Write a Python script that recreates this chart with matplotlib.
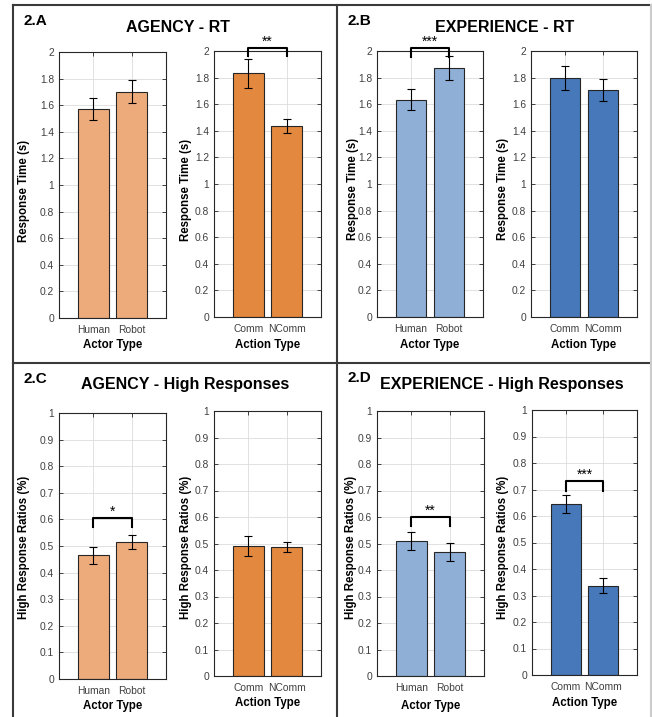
import matplotlib.pyplot as plt
from matplotlib.lines import Line2D

plt.rcParams['font.family'] = ['Liberation Sans', 'DejaVu Sans']

###############################################################################
# Data

actor_labels = ['Human', 'Robot']
action_labels = ['Comm', 'NComm']

# Response time (s), mean and error
agency_rt_actor = [1.574, 1.700]
agency_rt_actor_err = [0.083, 0.087]
agency_rt_action = [1.832, 1.438]
agency_rt_action_err = [0.110, 0.052]

exp_rt_actor = [1.634, 1.872]
exp_rt_actor_err = [0.079, 0.093]
exp_rt_action = [1.797, 1.709]
exp_rt_action_err = [0.088, 0.084]

# High response ratios, mean and error
agency_hr_actor = [0.465, 0.515]
agency_hr_actor_err = [0.031, 0.027]
agency_hr_action = [0.492, 0.487]
agency_hr_action_err = [0.038, 0.019]

exp_hr_actor = [0.511, 0.467]
exp_hr_actor_err = [0.034, 0.034]
exp_hr_action = [0.645, 0.337]
exp_hr_action_err = [0.034, 0.028]

rt_ticks = [0, 0.2, 0.4, 0.6, 0.8, 1, 1.2, 1.4, 1.6, 1.8, 2]
hr_ticks = [0, 0.1, 0.2, 0.3, 0.4, 0.5, 0.6, 0.7, 0.8, 0.9, 1]

# significance brackets: (stars, bracket top, leg bottom)
agency_rt_action_sig = ('**', 2.02, 1.96)
exp_rt_actor_sig = ('***', 2.025, 1.955)
agency_hr_actor_sig = ('*', 0.605, 0.571)
exp_hr_actor_sig = ('**', 0.600, 0.566)
exp_hr_action_sig = ('***', 0.732, 0.694)

light_orange = '#EDAB7C'
dark_orange = '#E2883F'
light_blue = '#8FAFD6'
dark_blue = '#4778B9'

###############################################################################

W, H = 652, 717
fig = plt.figure(figsize=(W / 100, H / 100), dpi=100)


def px_axes(x0, y0, x1, y1):
	return fig.add_axes([x0 / W, 1 - y1 / H, (x1 - x0) / W, (y1 - y0) / H])


def draw_bars(ax, box, vals, errs, labels, color, ticks, ylabel, xlabel,
		ylab_px, xlab_y, sig=None):
	x0, y0, x1, y1 = box
	x = [1, 2]
	ax.bar(x, vals, width=0.8, color=color, edgecolor='#262626',
			linewidth=0.8, zorder=2)
	ax.errorbar(x, vals, yerr=errs, fmt='none', ecolor='black',
			elinewidth=0.8, capsize=3, capthick=0.8, zorder=3)
	ax.set_xlim(0.1, 2.9)
	ax.set_ylim(ticks[0], ticks[-1])
	ax.set_xticks(x)
	ax.set_xticklabels(labels)
	ax.set_yticks(ticks)
	ax.set_yticklabels([f'{t:g}' for t in ticks])
	ax.grid(True, color='#dcdcdc', linewidth=0.6)
	ax.set_axisbelow(True)
	ax.tick_params(direction='in', length=3, width=0.6, top=True, right=True,
			labelsize=7.4, labelcolor='#404040', color='#262626')
	ax.tick_params(axis='x', pad=5)
	for s in ax.spines.values():
		s.set_linewidth(0.8)
		s.set_color('#262626')

	ax.set_ylabel(ylabel, fontsize=8.3, fontweight='bold')
	ax.set_xlabel(xlabel, fontsize=8.3, fontweight='bold')
	ax.yaxis.label.set_va('center')
	ax.xaxis.label.set_va('center')
	ax.yaxis.set_label_coords((ylab_px[0] - x0) / (x1 - x0),
			(y1 - ylab_px[1]) / (y1 - y0))
	ax.xaxis.set_label_coords(0.5, (y1 - xlab_y) / (y1 - y0))

	if sig:
		stars, top, leg = sig
		ax.plot([1, 1, 2, 2], [leg, top, top, leg], color='black',
				linewidth=1.5, clip_on=False, zorder=4)
		ax.annotate(stars, xy=(1.5, top), xytext=(0, 1.5),
				textcoords='offset points', ha='center', va='baseline',
				fontsize=10, annotation_clip=False)


rt_label = 'Response Time (s)'
hr_label = 'High Response Ratios (%)'

# 2.A
box = (59, 52, 166, 318)
draw_bars(px_axes(*box), box, agency_rt_actor, agency_rt_actor_err,
		actor_labels, light_orange, rt_ticks, rt_label, 'Actor Type',
		(24, 191), 345)
box = (214, 51, 321, 317)
draw_bars(px_axes(*box), box, agency_rt_action, agency_rt_action_err,
		action_labels, dark_orange, rt_ticks, rt_label, 'Action Type',
		(186, 190), 345, agency_rt_action_sig)

# 2.B
box = (377, 51, 483, 317)
draw_bars(px_axes(*box), box, exp_rt_actor, exp_rt_actor_err,
		actor_labels, light_blue, rt_ticks, rt_label, 'Actor Type',
		(353, 189), 345, exp_rt_actor_sig)
box = (531, 51, 637, 317)
draw_bars(px_axes(*box), box, exp_rt_action, exp_rt_action_err,
		action_labels, dark_blue, rt_ticks, rt_label, 'Action Type',
		(503, 189), 345)

# 2.C
box = (59, 413, 166, 679)
draw_bars(px_axes(*box), box, agency_hr_actor, agency_hr_actor_err,
		actor_labels, light_orange, hr_ticks, hr_label, 'Actor Type',
		(24, 547), 706, agency_hr_actor_sig)
box = (214, 411, 321, 676)
draw_bars(px_axes(*box), box, agency_hr_action, agency_hr_action_err,
		action_labels, dark_orange, hr_ticks, hr_label, 'Action Type',
		(186, 547), 703)

# 2.D
box = (377, 411, 484, 676)
draw_bars(px_axes(*box), box, exp_hr_actor, exp_hr_actor_err,
		actor_labels, light_blue, hr_ticks, hr_label, 'Actor Type',
		(351, 547), 706, exp_hr_actor_sig)
box = (532, 410, 637, 675)
draw_bars(px_axes(*box), box, exp_hr_action, exp_hr_action_err,
		action_labels, dark_blue, hr_ticks, hr_label, 'Action Type',
		(503, 547), 703, exp_hr_action_sig)

# Panel labels and titles
panels = [
		('2.A', 23, 21, 'AGENCY - RT', 178, 28),
		('2.B', 348, 21, 'EXPERIENCE - RT', 505, 28),
		('2.C', 23, 379, 'AGENCY - High Responses', 185, 385),
		('2.D', 348, 378, 'EXPERIENCE - High Responses', 502, 385),
		]
for tag, tx, ty, title, cx, cy in panels:
	fig.text(tx / W, 1 - ty / H, tag, ha='left', va='center',
			fontsize=11, fontweight='bold')
	fig.text(cx / W, 1 - cy / H, title, ha='center', va='center',
			fontsize=11.5, fontweight='bold')

# Frame lines around the four panels
frame = [
		((13, 13), (5, 717), '#3a3a3a'),
		((13, 652), (5, 5), '#3a3a3a'),
		((337, 337), (5, 717), '#3a3a3a'),
		((13, 652), (363, 363), '#3a3a3a'),
		((651, 651), (5, 717), '#cccccc'),
		]
for xs, ys, c in frame:
	fig.add_artist(Line2D([x / W for x in xs], [1 - y / H for y in ys],
			color=c, linewidth=1.5, transform=fig.transFigure))

fig.savefig('out.png', dpi=100)
